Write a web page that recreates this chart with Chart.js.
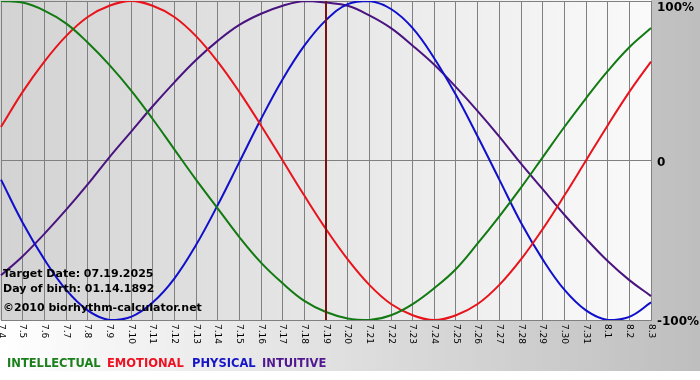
<!DOCTYPE html>
<html>
<head>
<meta charset="utf-8">
<script src="https://cdn.jsdelivr.net/npm/chart.js@4.4.0/dist/chart.umd.min.js"></script>
<style>
  html, body { margin: 0; padding: 0; background: #fff; }
  #wrap { position: relative; width: 700px; height: 380px; overflow: hidden; }
  canvas { position: absolute; left: 0; top: 0; }
  .info { position: absolute; left: 3px; font: bold 11px "DejaVu Sans"; line-height: 11px; color: #000; white-space: nowrap; }
  .leg { position: absolute; top: 357px; font: bold 11.5px "DejaVu Sans"; line-height: 12px; white-space: nowrap; }
</style>
</head>
<body>
<div id="wrap">
  <canvas id="bio" width="700" height="380"></canvas>
  <div class="info" style="top:268px">Target Date: 07.19.2025</div>
  <div class="info" style="top:283px">Day of birth: 01.14.1892</div>
  <div class="info" style="top:302px">©2010 biorhythm-calculator.net</div>
  <div class="leg" style="left:7px;color:#1b7f1b">INTELLECTUAL</div>
  <div class="leg" style="left:107px;color:#ee1122">EMOTIONAL</div>
  <div class="leg" style="left:192px;color:#1515c8">PHYSICAL</div>
  <div class="leg" style="left:262px;color:#501890">INTUITIVE</div>
</div>
<script>
// ===== Data =====
const days = ["7.4", "7.5", "7.6", "7.7", "7.8", "7.9", "7.10", "7.11", "7.12", "7.13",
  "7.14", "7.15", "7.16", "7.17", "7.18", "7.19", "7.20", "7.21", "7.22", "7.23",
  "7.24", "7.25", "7.26", "7.27", "7.28", "7.29", "7.30", "7.31", "8.1", "8.2", "8.3"];
const targetDay = "7.19";

const intellectual = [1.00, 0.99, 0.94, 0.86, 0.74, 0.60, 0.44, 0.26, 0.07, -0.12, -0.30,
  -0.48, -0.64, -0.77, -0.88, -0.95, -0.99, -1.00, -0.97, -0.90, -0.80, -0.68, -0.52,
  -0.35, -0.17, 0.02, 0.21, 0.39, 0.56, 0.71, 0.83];
const emotional = [0.21, 0.43, 0.62, 0.78, 0.90, 0.97, 1.00, 0.97, 0.90, 0.78, 0.62, 0.43,
  0.22, 0.00, -0.22, -0.43, -0.62, -0.78, -0.90, -0.97, -1.00, -0.97, -0.90, -0.78, -0.62,
  -0.43, -0.22, 0.00, 0.22, 0.43, 0.62];
const physical = [-0.12, -0.39, -0.62, -0.81, -0.94, -1.00, -0.98, -0.89, -0.74, -0.53,
  -0.28, -0.01, 0.26, 0.51, 0.72, 0.88, 0.98, 1.00, 0.95, 0.83, 0.64, 0.41, 0.15, -0.12,
  -0.39, -0.62, -0.81, -0.94, -1.00, -0.98, -0.89];
const intuitive = [-0.72, -0.60, -0.46, -0.31, -0.15, 0.02, 0.18, 0.34, 0.49, 0.63, 0.75,
  0.85, 0.92, 0.97, 1.00, 0.99, 0.97, 0.91, 0.83, 0.72, 0.60, 0.46, 0.31, 0.15, -0.02,
  -0.18, -0.34, -0.49, -0.63, -0.75, -0.85];

const yTicks = [1, 0, -1];
const yTickLabels = ["100%", "0", "-100%"];

// ===== Custom drawing (backgrounds, marker, rotated labels) =====
const bioPlugin = {
  id: "bioPlugin",
  beforeDraw(chart) {
    const { ctx, chartArea: a, width, height } = chart;
    ctx.save();
    const outer = ctx.createLinearGradient(0, 0, width, 0);
    outer.addColorStop(0, "#ffffff");
    outer.addColorStop(1, "#bebebe");
    ctx.fillStyle = outer;
    ctx.fillRect(0, 0, width, 371);
    ctx.fillStyle = "#ffffff";
    ctx.fillRect(0, 371, width, height - 371);

    const plot = ctx.createLinearGradient(a.left, 0, a.right, 0);
    plot.addColorStop(0, "#d3d3d3");
    plot.addColorStop(1, "#fafafa");
    ctx.fillStyle = plot;
    ctx.fillRect(a.left - 1, a.top - 1, a.right - a.left + 1, a.bottom - a.top + 1);
    ctx.restore();
  },
  afterDatasetsDraw(chart) {
    const { ctx, chartArea: a } = chart;
    const x = Math.round(chart.scales.x.getPixelForValue(days.indexOf(targetDay)));
    ctx.save();
    ctx.strokeStyle = "#7a1212";
    ctx.lineWidth = 2;
    ctx.beginPath();
    ctx.moveTo(x, a.top);
    ctx.lineTo(x, a.bottom);
    ctx.stroke();
    ctx.restore();
  },
  afterDraw(chart) {
    const { ctx, chartArea: a } = chart;
    const xs = chart.scales.x;
    const ys = chart.scales.y;
    ctx.save();
    ctx.fillStyle = "#000";
    ctx.font = '9px "DejaVu Sans"';
    ctx.textAlign = "left";
    ctx.textBaseline = "middle";
    days.forEach((d, i) => {
      ctx.save();
      ctx.translate(xs.getPixelForValue(i), a.bottom + 4);
      ctx.rotate(Math.PI / 2);
      ctx.fillText(d, 0, 0);
      ctx.restore();
    });
    ctx.font = 'bold 12px "DejaVu Sans"';
    yTicks.forEach((v, i) => {
      const y = Math.max(ys.getPixelForValue(v) + 2, 8);
      ctx.fillText(yTickLabels[i], a.right + 6, y);
    });
    ctx.restore();
  },
};

const line = (data, color) => ({
  data,
  borderColor: color,
  borderWidth: 2,
  pointRadius: 0,
  tension: 0.4,
  fill: false,
});

new Chart(document.getElementById("bio"), {
  type: "line",
  data: {
    labels: days,
    datasets: [
      line(intellectual, "#127a12"),
      line(emotional, "#e8141c"),
      line(physical, "#1010cc"),
      line(intuitive, "#4a1480"),
    ],
  },
  options: {
    responsive: false,
    animation: false,
    events: [],
    layout: { padding: { top: 1, left: 1, right: 0, bottom: 0 } },
    plugins: { legend: { display: false }, tooltip: { enabled: false } },
    scales: {
      x: {
        offset: false,
        ticks: { display: false, autoSkip: false },
        grid: { color: "#808080", lineWidth: 1, drawTicks: false },
        border: { color: "#808080" },
        afterFit: (s) => { s.height = 60; },
      },
      y: {
        position: "right",
        min: -1,
        max: 1,
        ticks: { display: false, stepSize: 1 },
        grid: { color: "#808080", lineWidth: 1, drawTicks: false },
        border: { display: false },
        afterFit: (s) => { s.width = 49; },
      },
    },
  },
  plugins: [bioPlugin],
});
</script>
</body>
</html>
